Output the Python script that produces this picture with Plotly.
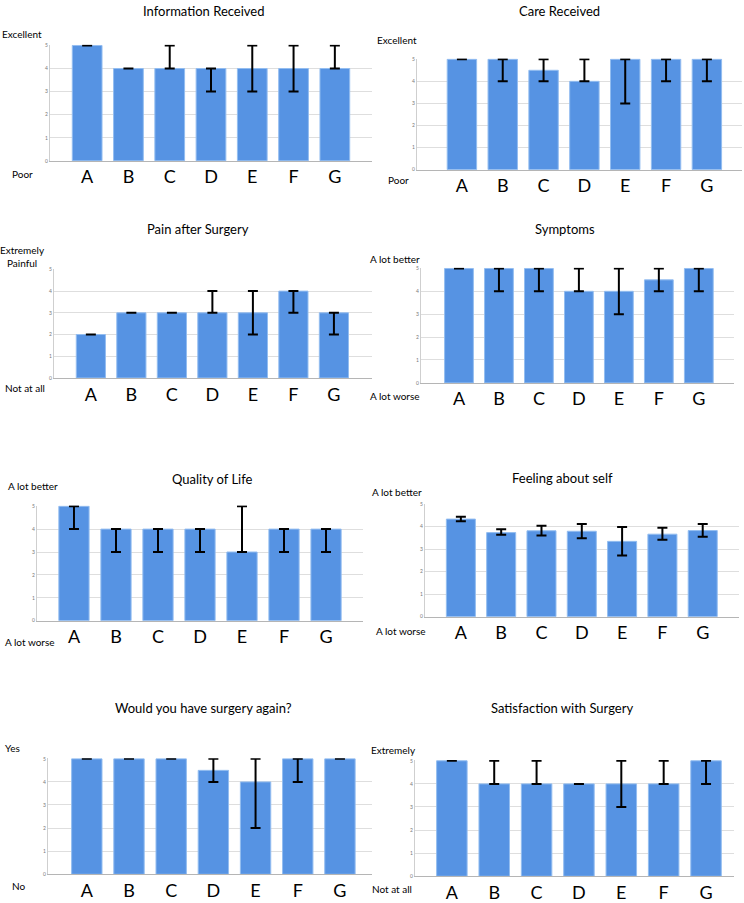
import plotly.graph_objects as go

W, H = 744, 903

groups = ["A", "B", "C", "D", "E", "F", "G"]

# ---- data (bar value, error low, error high) ----
info_val = [5, 4, 4, 4, 4, 4, 4]
info_lo = [5, 4, 4, 3, 3, 3, 4]
info_hi = [5, 4, 5, 4, 5, 5, 5]

care_val = [5, 5, 4.5, 4, 5, 5, 5]
care_lo = [5, 4, 4, 4, 3, 4, 4]
care_hi = [5, 5, 5, 5, 5, 5, 5]

pain_val = [2, 3, 3, 3, 3, 4, 3]
pain_lo = [2, 3, 3, 3, 2, 3, 2]
pain_hi = [2, 3, 3, 4, 4, 4, 3]

symp_val = [5, 5, 5, 4, 4, 4.5, 5]
symp_lo = [5, 4, 4, 4, 3, 4, 4]
symp_hi = [5, 5, 5, 5, 5, 5, 5]

qol_val = [5, 4, 4, 4, 3, 4, 4]
qol_lo = [4, 3, 3, 3, 3, 3, 3]
qol_hi = [5, 4, 4, 4, 5, 4, 4]

self_val = [4.34, 3.74, 3.82, 3.80, 3.35, 3.67, 3.83]
self_lo = [4.24, 3.64, 3.61, 3.49, 2.72, 3.42, 3.55]
self_hi = [4.44, 3.89, 4.04, 4.12, 3.99, 3.95, 4.12]

again_val = [5, 5, 5, 4.5, 4, 5, 5]
again_lo = [5, 5, 5, 4, 2, 4, 5]
again_hi = [5, 5, 5, 5, 5, 5, 5]

sat_val = [5, 4, 4, 4, 4, 4, 5]
sat_lo = [5, 4, 4, 4, 3, 4, 4]
sat_hi = [5, 5, 5, 4, 5, 5, 5]

y_ticks = [0, 1, 2, 3, 4, 5]

titles = ["Information Received", "Care Received", "Pain after Surgery", "Symptoms",
          "Quality of Life", "Feeling about self", "Would you have surgery again?",
          "Satisfaction with Surgery"]
top_labels = ["Excellent", "Excellent", "Extremely<br>Painful", "A lot better",
              "A lot better", "A lot better", "Yes", "Extremely"]
bottom_labels = ["Poor", "Poor", "Not at all", "A lot worse",
                 "A lot worse", "A lot worse", "No", "Not at all"]

series = [
    (info_val, info_lo, info_hi),
    (care_val, care_lo, care_hi),
    (pain_val, pain_lo, pain_hi),
    (symp_val, symp_lo, symp_hi),
    (qol_val, qol_lo, qol_hi),
    (self_val, self_lo, self_hi),
    (again_val, again_lo, again_hi),
    (sat_val, sat_lo, sat_hi),
]

# ---- layout geometry (page pixels) ----
geo = [
    dict(x0=50, x1=372, yt=43, yb=160, r0=-0.9, r1=6.9, tx=204, ty=8,
         tl=(0, 31, "left"), bl=(10, 173, "left")),
    dict(x0=417, x1=742, yt=57, yb=169, r0=-1.1, r1=6.86, tx=559, ty=8,
         tl=(375, 37, "left"), bl=(386, 179, "left")),
    dict(x0=54, x1=372, yt=270, yb=380, r0=-0.91, r1=6.94, tx=198, ty=229,
         tl=(22, 257, "center"), bl=(3, 390, "left")),
    dict(x0=421, x1=734, yt=269, yb=385, r0=-0.95, r1=6.88, tx=565, ty=229,
         tl=(368, 259, "left"), bl=(368, 398, "left")),
    dict(x0=37, x1=363, yt=510, yb=626, r0=-0.88, r1=6.88, tx=212, ty=482,
         tl=(6, 489, "left"), bl=(3, 648, "left")),
    dict(x0=425, x1=739, yt=508, yb=622, r0=-0.89, r1=6.9, tx=562, ty=481,
         tl=(370, 496, "left"), bl=(374, 636, "left")),
    dict(x0=48, x1=372, yt=766, yb=883, r0=-0.92, r1=6.76, tx=204, ty=714,
         tl=(3, 755, "left"), bl=(10, 895, "left")),
    dict(x0=415, x1=734, yt=768, yb=885, r0=-0.87, r1=6.66, tx=562, ty=714,
         tl=(369, 757, "left"), bl=(370, 898, "left")),
]

FONT = "Lato"
BAR = "#5693E3"
BAR_EDGE = "#93BDF0"


def fx(p):
    return p / W


def fy(p):
    return 1 - p / H


fig = go.Figure()
annotations = []
layout_axes = {}

for i, ((vals, lo, hi), g) in enumerate(zip(series, geo)):
    n = i + 1
    xa = "x" if n == 1 else f"x{n}"
    ya = "y" if n == 1 else f"y{n}"
    plus = [h - v for v, h in zip(vals, hi)]
    minus = [v - l for v, l in zip(vals, lo)]
    fig.add_trace(go.Bar(
        x=groups, y=vals, xaxis=xa, yaxis=ya, width=0.72,
        marker=dict(color=BAR, line=dict(color=BAR_EDGE, width=1)),
        error_y=dict(type="data", symmetric=False, array=plus, arrayminus=minus,
                     color="black", thickness=2, width=5),
        showlegend=False, hoverinfo="skip",
    ))
    extra = 0.03
    ppu = (g["yb"] - g["yt"]) / 5.0
    top_px = g["yt"] - extra * ppu
    xkey = "xaxis" if n == 1 else f"xaxis{n}"
    ykey = "yaxis" if n == 1 else f"yaxis{n}"
    layout_axes[xkey] = dict(
        domain=[fx(g["x0"]), fx(g["x1"])], anchor=ya, type="category",
        range=[g["r0"], g["r1"]], showgrid=False, zeroline=False,
        showline=True, linecolor="#b5b5b5", linewidth=1, ticks="",
        tickfont=dict(family=FONT, size=18, color="black"), ticklabelstandoff=0,
    )
    layout_axes[ykey] = dict(
        domain=[fy(g["yb"]), fy(top_px)], anchor=xa, range=[0, 5 + extra],
        tickvals=y_ticks, showgrid=True, gridcolor="#dedede", gridwidth=1,
        zeroline=False, showline=True, linecolor="#cfcfcf", linewidth=1, ticks="",
        tickfont=dict(family=FONT, size=5, color="#777"),
    )
    annotations.append(dict(x=fx(g["tx"]), y=fy(g["ty"]), xref="paper", yref="paper",
                            text=titles[i], showarrow=False, xanchor="center", yanchor="middle",
                            font=dict(family=FONT, size=13, color="black")))
    tlx, tly, tla = g["tl"]
    annotations.append(dict(x=fx(tlx), y=fy(tly), xref="paper", yref="paper",
                            text=top_labels[i], showarrow=False, xanchor=tla, yanchor="middle",
                            align="center",
                            font=dict(family=FONT, size=10, color="black")))
    blx, bly, bla = g["bl"]
    annotations.append(dict(x=fx(blx), y=fy(bly), xref="paper", yref="paper",
                            text=bottom_labels[i], showarrow=False, xanchor=bla, yanchor="middle",
                            font=dict(family=FONT, size=10, color="black")))

fig.update_layout(
    width=W, height=H, autosize=False,
    margin=dict(l=0, r=0, t=0, b=0),
    paper_bgcolor="white", plot_bgcolor="white",
    annotations=annotations,
    **layout_axes,
)

# remove the browser's default 8px page margin so the figure fills the window
fig.write_html("out.html", config={"displayModeBar": False},
               post_script="document.body.style.margin='0';")
